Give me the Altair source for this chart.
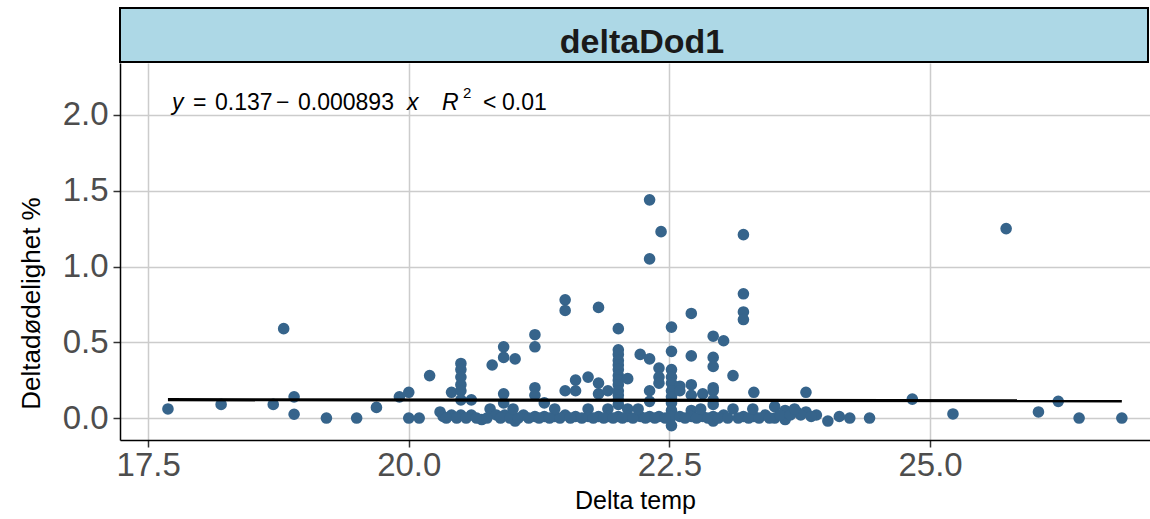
import altair as alt
import pandas as pd

# ---- data ----
temp = [
    17.69, 18.20, 18.70, 18.80, 18.90, 18.90, 19.21, 19.50, 19.69, 19.91,
    20.00, 20.00, 20.10, 20.20, 20.30, 20.33, 20.41, 20.41,
    20.50, 20.50, 20.50, 20.50, 20.50, 20.50, 20.50,
    20.60, 20.60, 20.70, 20.78, 20.80, 20.84,
    20.91, 20.91, 20.91, 20.91, 20.92, 21.02, 21.02, 21.10,
    21.21, 21.21, 21.21, 21.21, 21.21, 21.30, 21.30, 21.40,
    21.50, 21.50, 21.50, 21.50, 21.60, 21.60, 21.60,
    21.72, 21.72, 21.72, 21.82, 21.82, 21.82, 21.82, 21.91, 21.91, 21.91,
    22.01, 22.01, 22.01, 22.01, 22.01, 22.01, 22.01, 22.01, 22.01, 22.01, 22.01, 22.01, 22.01, 22.01,
    22.10, 22.10, 22.10, 22.22, 22.22,
    22.31, 22.31, 22.31, 22.31, 22.31, 22.31,
    22.40, 22.40, 22.40, 22.40, 22.42,
    22.52, 22.52, 22.52, 22.52, 22.52, 22.52, 22.52, 22.52, 22.52, 22.52, 22.52,
    22.60, 22.60, 22.60,
    22.71, 22.71, 22.71, 22.71, 22.71, 22.71, 22.82, 22.82,
    22.92, 22.92, 22.92, 22.92, 22.92, 22.92, 22.92, 22.92, 22.92,
    23.02, 23.02, 23.11, 23.11,
    23.21, 23.21, 23.21, 23.21, 23.21, 23.31, 23.31, 23.42,
    23.51, 23.51, 23.61, 23.61, 23.72, 23.81, 23.81, 23.91,
    24.02, 24.13, 24.23, 24.42, 24.83, 25.22, 25.73, 26.04, 26.23, 26.43, 26.84,
    20.36, 20.46, 20.55, 20.65, 20.75, 20.88, 20.97, 21.05, 21.15, 21.25,
    21.35, 21.45, 21.55, 21.66, 21.77, 21.87, 21.96, 22.05, 22.15, 22.27,
    22.36, 22.46, 22.65, 22.76, 22.87, 22.97, 23.06, 23.16, 23.26, 23.36,
    23.46, 23.56, 23.66, 23.76, 23.86,
    21.00, 21.40, 22.20, 22.80, 23.30, 23.70,
]
mort = [
    0.06, 0.09, 0.09, 0.59, 0.14, 0.025, 0.00, 0.00, 0.07, 0.14,
    0.17, 0.00, 0.00, 0.28, 0.04, 0.01, 0.17, 0.02,
    0.36, 0.32, 0.27, 0.22, 0.18, 0.12, 0.02,
    0.12, 0.02, -0.01, 0.06, 0.35, 0.02,
    0.47, 0.40, 0.16, 0.10, 0.02, 0.39, -0.02, 0.02,
    0.55, 0.47, 0.20, 0.15, 0.01, 0.10, 0.01, 0.01,
    0.78, 0.71, 0.18, 0.02, 0.25, 0.18, 0.01,
    0.27, 0.06, 0.01, 0.73, 0.23, 0.16, 0.01, 0.18, 0.06, 0.01,
    0.59, 0.45, 0.42, 0.38, 0.35, 0.32, 0.28, 0.25, 0.22, 0.18, 0.15, 0.12, 0.09, 0.01,
    0.26, 0.06, 0.01, 0.42, 0.01,
    1.44, 1.05, 0.39, 0.18, 0.11, 0.01,
    0.33, 0.27, 0.23, 0.01, 1.23,
    0.60, 0.44, 0.32, 0.27, 0.23, 0.18, 0.14, 0.10, 0.05, 0.01, -0.05,
    0.21, 0.18, 0.01,
    0.69, 0.41, 0.22, 0.15, 0.05, 0.01, 0.16, 0.01,
    0.54, 0.40, 0.34, 0.20, 0.18, 0.12, 0.09, 0.01, -0.02,
    0.51, 0.02, 0.28, 0.06,
    1.21, 0.82, 0.70, 0.65, 0.01, 0.17, 0.01, 0.02,
    0.075, 0.00, 0.05, -0.01, 0.04, 0.17, 0.04, 0.02,
    -0.02, 0.01, 0.00, 0.00, 0.125, 0.027, 1.25, 0.04, 0.11, 0.00, 0.00,
    0.00, 0.00, 0.00, 0.00, 0.00, 0.00, 0.00, 0.00, 0.00, 0.00,
    0.00, 0.00, 0.00, 0.00, 0.00, 0.00, 0.00, 0.00, 0.00, 0.00,
    0.00, 0.00, 0.00, 0.00, 0.00, 0.00, 0.00, 0.00, 0.00, 0.00,
    0.00, 0.02, 0.02, 0.02, 0.01,
    0.06, 0.06, 0.06, 0.06, 0.06, 0.06,
]
fit_intercept = 0.137
fit_slope = -0.000893
x_ticks = [17.5, 20.0, 22.5, 25.0]
y_ticks = [0.0, 0.5, 1.0, 1.5, 2.0]
x_domain = [17.23, 27.11]
y_domain = [-0.145, 2.343]
panel_label = "deltaDod1"
x_title = "Delta temp"
y_title = "Deltadødelighet %"

# ---- layout ----
W, H = 1030, 377
FONT = "Liberation Sans"
POINT_COLOR = "#36648B"

pts = pd.DataFrame({"temp": temp, "mort": mort})
x0, x1 = min(temp), max(temp)
fit = pd.DataFrame({
    "temp": [x0, x1],
    "mort": [fit_intercept + fit_slope * x0, fit_intercept + fit_slope * x1],
})
one = pd.DataFrame({"k": [0]})

xs = alt.Scale(domain=x_domain, nice=False, zero=False)
ys = alt.Scale(domain=y_domain, nice=False, zero=False)
xaxis = alt.Axis(values=x_ticks, format=".1f", title=x_title,
                 labelPadding=2, titlePadding=6)
yaxis = alt.Axis(values=y_ticks, format=".1f", title=y_title,
                 labelPadding=5, titlePadding=18, titleY=240, titleFontSize=26)

points = alt.Chart(pts).mark_circle(size=135, color=POINT_COLOR, opacity=1).encode(
    x=alt.X("temp:Q", scale=xs, axis=xaxis),
    y=alt.Y("mort:Q", scale=ys, axis=yaxis),
)
line = alt.Chart(fit).mark_line(color="black", strokeWidth=3.2).encode(
    x=alt.X("temp:Q", scale=xs, axis=xaxis),
    y=alt.Y("mort:Q", scale=ys, axis=yaxis),
)

strip = alt.Chart(one).mark_rect(fill="#ADD8E6", stroke="black", strokeWidth=2).encode(
    x=alt.value(0), x2=alt.value(1028), y=alt.value(-55), y2=alt.value(-1)
)
strip_text = alt.Chart(one).mark_text(
    text=panel_label, font=FONT, fontSize=34, fontWeight="bold",
    color="#1a1a1a", align="center", baseline="alphabetic"
).encode(x=alt.value(522), y=alt.value(-10))

# equation pieces: (text, x px, italic, size, y px)
eq_pieces = [
    ("y", 52, True, 23, 47),
    ("=", 73, False, 23, 47),
    ("0.137", 95, False, 23, 47),
    ("\u2212", 156, False, 23, 47),
    ("0.000893", 178, False, 23, 47),
    ("x", 287, True, 23, 47),
    ("R", 322, True, 23, 47),
    ("2", 343, False, 15, 35),
    ("<", 363, False, 23, 47),
    ("0.01", 382, False, 23, 47),
]
eq_layers = []
for txt, px, ital, fs, py in eq_pieces:
    eq_layers.append(
        alt.Chart(one).mark_text(
            text=txt, font=FONT, fontSize=fs,
            fontStyle="italic" if ital else "normal",
            color="black", align="left", baseline="alphabetic"
        ).encode(x=alt.value(px), y=alt.value(py))
    )

chart = alt.layer(points, line, strip, strip_text, *eq_layers).properties(
    width=W, height=H,
    padding={"left": 120, "top": 63, "right": 0, "bottom": 79},
    autosize="none",
    background="white",
).configure_view(stroke=None).configure_axis(
    labelFont=FONT, labelFontSize=33, labelColor="#4d4d4d",
    titleFont=FONT, titleFontSize=25, titleFontWeight="normal", titleColor="black",
    tickColor="#333333", tickSize=7, tickWidth=1.5,
    domainColor="black", domainWidth=1.5,
    gridColor="#cccccc", gridWidth=1.5,
)

chart.save("out.html", embed_options={"renderer": "svg", "actions": False})
